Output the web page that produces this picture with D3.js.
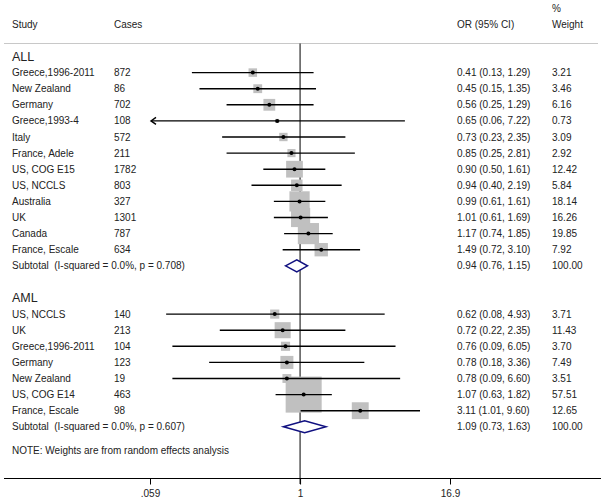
<!DOCTYPE html>
<html>
<head>
<meta charset="utf-8">
<script src="https://cdn.jsdelivr.net/npm/d3@7"></script>
<style>
  body { margin: 0; background: #fff; }
  svg { display: block; font-family: "Liberation Sans", Arial, sans-serif; }
  svg text { white-space: pre; }
</style>
</head>
<body>
<svg id="chart" width="603" height="498"></svg>
<script>
// ---- data ----
const allStudies = ["Greece,1996-2011","New Zealand","Germany","Greece,1993-4","Italy","France, Adele","US, COG E15","US, NCCLS","Australia","UK","Canada","France, Escale"];
const allCases   = [872, 86, 702, 108, 572, 211, 1782, 803, 327, 1301, 787, 634];
const allOR      = [0.41, 0.45, 0.56, 0.65, 0.73, 0.85, 0.90, 0.94, 0.99, 1.01, 1.17, 1.49];
const allLo      = [0.13, 0.15, 0.25, 0.06, 0.23, 0.25, 0.50, 0.40, 0.61, 0.61, 0.74, 0.72];
const allHi      = [1.29, 1.35, 1.29, 7.22, 2.35, 2.81, 1.61, 2.19, 1.61, 1.69, 1.85, 3.10];
const allWeight  = [3.21, 3.46, 6.16, 0.73, 3.09, 2.92, 12.42, 5.84, 18.14, 16.26, 19.85, 7.92];
const allSub     = {label: "Subtotal  (I-squared = 0.0%, p = 0.708)", or: 0.94, lo: 0.76, hi: 1.15, w: 100.00};

const amlStudies = ["US, NCCLS","UK","Greece,1996-2011","Germany","New Zealand","US, COG E14","France, Escale"];
const amlCases   = [140, 213, 104, 123, 19, 463, 98];
const amlOR      = [0.62, 0.72, 0.76, 0.78, 0.78, 1.07, 3.11];
const amlLo      = [0.08, 0.22, 0.09, 0.18, 0.09, 0.63, 1.01];
const amlHi      = [4.93, 2.35, 6.05, 3.36, 6.60, 1.82, 9.60];
const amlWeight  = [3.71, 11.43, 3.70, 7.49, 3.51, 57.51, 12.65];
const amlSub     = {label: "Subtotal  (I-squared = 0.0%, p = 0.607)", or: 1.09, lo: 0.73, hi: 1.63, w: 100.00};

const tickValues = [0.059, 1, 16.9];
const tickLabels = [".059", "1", "16.9"];
const noteText = "NOTE: Weights are from random effects analysis";

// ---- build rows ----
function group(title, studies, cases, or, lo, hi, w, sub) {
  const rows = [{type: "header", label: title}];
  studies.forEach((s, i) => rows.push({type: "study", label: s, cases: cases[i], or: or[i], lo: lo[i], hi: hi[i], w: w[i]}));
  rows.push(Object.assign({type: "sub"}, sub));
  rows.push({type: "blank"});
  return rows;
}
const rows = [].concat(
  group("ALL", allStudies, allCases, allOR, allLo, allHi, allWeight, allSub),
  group("AML", amlStudies, amlCases, amlOR, amlLo, amlHi, amlWeight, amlSub)
);

// ---- scales ----
const svg = d3.select("#chart");
const x = d3.scaleLog().domain([0.059, 16.9]).range([150, 450]);
const y = d3.scaleLinear().domain([0, 23]).range([56.5, 426.8]);
const sq = d3.scaleSqrt().domain([0, 100]).range([0, 47.5]);
const fmt = d3.format(".2f");
const txt = "#222";
const xMin = 0.059, xMax = 16.9;
const colStudy = 12, colCases = 114, colOR = 457, colW = 552;

function label(xp, yp, s, size) {
  svg.append("text").attr("x", xp).attr("y", yp).attr("dy", "0.35em")
    .attr("font-size", size || 10).attr("fill", txt).text(s);
}

// header
label(colStudy, 24, "Study");
label(colCases, 24, "Cases");
label(colOR, 24, "OR (95% CI)");
label(colW, 8, "%");
label(colW, 24, "Weight");

// top rule
svg.append("line").attr("x1", 4).attr("x2", 598).attr("y1", 43.5).attr("y2", 43.5)
  .attr("stroke", "#c8c8c8").attr("stroke-width", 1);

// null line
svg.append("line").attr("x1", x(1)).attr("x2", x(1)).attr("y1", 43.5).attr("y2", 484)
  .attr("stroke", "#000").attr("stroke-width", 1);

// axis
const axisY = 478.5;
svg.append("line").attr("x1", 4).attr("x2", 601).attr("y1", axisY).attr("y2", axisY)
  .attr("stroke", "#000").attr("stroke-width", 1);
const axis = d3.axisBottom(x).tickValues(tickValues).tickFormat((d, i) => tickLabels[i]).tickSize(6).tickPadding(5);
const ag = svg.append("g").attr("transform", `translate(0,${axisY})`).call(axis);
ag.select(".domain").remove();
ag.selectAll("text").attr("font-size", 10).attr("fill", txt).attr("font-family", "Liberation Sans, Arial, sans-serif");
ag.selectAll("line").attr("stroke", "#000");

// rows
rows.forEach((r, i) => {
  const yy = y(i);
  if (r.type === "header") {
    label(colStudy, yy, r.label, 12.5);
  } else if (r.type === "study") {
    label(colStudy, yy, r.label);
    label(colCases, yy, r.cases);
    label(colOR, yy, `${fmt(r.or)} (${fmt(r.lo)}, ${fmt(r.hi)})`);
    label(colW, yy, fmt(r.w));
  } else if (r.type === "sub") {
    label(colStudy, yy, r.label);
    label(colOR, yy, `${fmt(r.or)} (${fmt(r.lo)}, ${fmt(r.hi)})`);
    label(colW, yy, fmt(r.w));
  }
});

// squares
const studyRows = rows.map((r, i) => Object.assign({idx: i}, r)).filter(r => r.type === "study");
svg.append("g").selectAll("rect").data(studyRows).join("rect")
  .attr("x", d => x(d.or) - sq(d.w) / 2)
  .attr("y", d => y(d.idx) - sq(d.w) / 2)
  .attr("width", d => sq(d.w)).attr("height", d => sq(d.w))
  .attr("fill", "#c0c0c0");

// CI lines
studyRows.forEach(d => {
  const yy = y(d.idx);
  const clippedLo = d.lo < xMin * 1.05;
  const x1 = clippedLo ? x(xMin) + 1 : x(d.lo);
  const x2 = x(Math.min(d.hi, xMax));
  svg.append("line").attr("x1", x1).attr("x2", x2).attr("y1", yy).attr("y2", yy)
    .attr("stroke", "#000").attr("stroke-width", 1.4);
  if (clippedLo) {
    svg.append("path").attr("d", `M${x1 + 5},${yy - 3.5} L${x1},${yy} L${x1 + 5},${yy + 3.5}`)
      .attr("fill", "none").attr("stroke", "#000").attr("stroke-width", 1.4);
  }
  svg.append("circle").attr("cx", x(d.or)).attr("cy", yy).attr("r", 2).attr("fill", "#000");
});

// diamonds
rows.forEach((r, i) => {
  if (r.type !== "sub") return;
  const yy = y(i), h = 6;
  svg.append("path")
    .attr("d", `M${x(r.lo)},${yy} L${x(r.or)},${yy - h} L${x(r.hi)},${yy} L${x(r.or)},${yy + h} Z`)
    .attr("fill", "#fff").attr("stroke", "#101080").attr("stroke-width", 1.5);
});

// note
label(colStudy, y(24.5), noteText);
</script>
</body>
</html>
